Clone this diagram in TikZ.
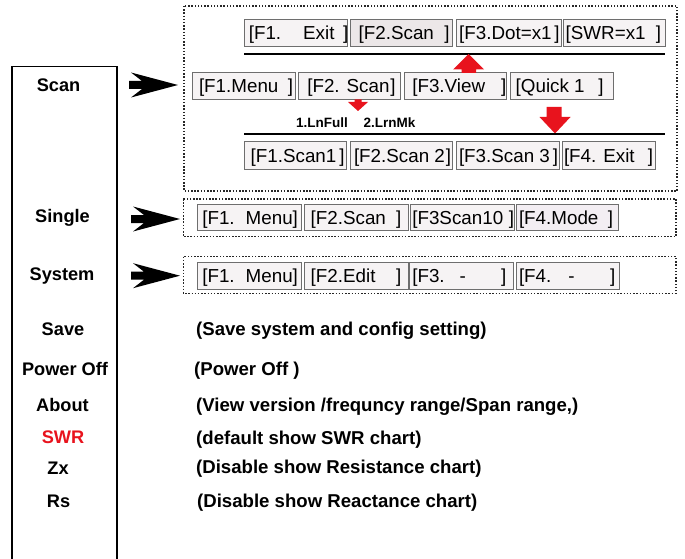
\documentclass[tikz,border=0pt]{standalone}
\usepackage{fontspec}
\setmainfont{Liberation Sans}

\definecolor{keyfill}{HTML}{F6F3F4}
\definecolor{keyfilldark}{HTML}{ECE7E8}
\definecolor{keyfilllav}{HTML}{F3EEF3}
\definecolor{keyline}{HTML}{6E6E6E}
\definecolor{hotred}{HTML}{E8131D}

% soft-key caption: width, left pad, text up to the closing bracket, right pad
\newcommand\keytext[4]{\makebox[#1pt][l]{\hspace*{#2pt}#3\hfill]\hspace*{#4pt}}}

% black dart pointing right, tail centre at the given coordinate
\newcommand\dartarrow[1]{%
  \fill[black] (#1) ++(2,-12.5) -- ++(47,12.5) -- ++(-47,12.5) -- ++(11,-8.5)
    -- ++(-13,0) -- ++(0,-8) -- ++(13,0) -- cycle;}

\tikzset{
  keybox/.style={draw=keyline, line width=0.9pt, fill=keyfill, anchor=north west,
    inner sep=0pt, outer sep=0pt, text height=13.3pt, text depth=0pt,
    font=\fontsize{18.8}{21}\selectfont},
  menulabel/.style={font=\bfseries\fontsize{18.2}{20}\selectfont, inner sep=0pt, anchor=base},
  desc/.style={font=\bfseries\fontsize{18.6}{20}\selectfont, inner sep=0pt, anchor=base west},
  hint/.style={font=\bfseries\fontsize{13.5}{15}\selectfont, inner sep=0pt, anchor=base west},
  frame/.style={draw=black!85, line width=1.5pt, dash pattern=on 1.5pt off 1.7pt},
  rule/.style={line width=1.8pt},
}

\begin{document}
\begin{tikzpicture}[x=1pt,y=-1pt]
\useasboundingbox (0,0) rectangle (685,559);

% left menu column
\draw[line width=1.6pt] (11.7,559) -- (11.7,66.7) -- (116.7,66.7) -- (116.7,559);
\node[menulabel] (mScan)   at (58.5,92)  {Scan};
\node[menulabel] (mSingle) at (62.5,222) {Single};
\node[menulabel] (mSystem) at (62,280.5) {System};
\node[menulabel] (mSave)   at (63,335)   {Save};
\node[menulabel] (mPower)  at (65,375)   {Power Off};
\node[menulabel] (mAbout)  at (62.5,411) {About};
\node[menulabel, text=hotred] (mSwr) at (63,443) {SWR};
\node[menulabel] (mZx)     at (58,474)   {Zx};
\node[menulabel] (mRs)     at (58.5,507) {Rs};

% arrows into the sub-menus
\coordinate (arScan)   at (129,85);
\coordinate (arSingle) at (131,219);
\coordinate (arSystem) at (131,275.7);
\dartarrow{arScan}
\dartarrow{arSingle}
\dartarrow{arSystem}

% dotted frames
\draw[frame] (184,6) rectangle (677,191);
\draw[frame] (183.3,199) rectangle (676,236.7);
\draw[frame] (183.3,256.7) rectangle (676,293.3);

% scan: upper level
\node[keybox, minimum width=103pt, minimum height=27pt] (a1) at (244.3,19.5)
  {\keytext{103}{4.5}{[F1.\hspace{22pt}Exit}{-1}};
\node[keybox, fill=keyfilldark, minimum width=102pt, minimum height=27pt] (a2) at (350.7,19.5)
  {\keytext{102}{8}{[F2.Scan}{3}};
\node[keybox, minimum width=104.3pt, minimum height=27pt] (a3) at (456.7,19.5)
  {\keytext{104.3}{2.5}{[F3.Dot=x1}{1.3}};
\node[keybox, minimum width=101.7pt, minimum height=27pt] (a4) at (563.3,19.5)
  {\keytext{101.7}{2.4}{[SWR=x1}{4}};
\coordinate (r1w) at (244,54);
\coordinate (r1e) at (665,54);
\draw[rule] (r1w) -- (r1e);

% scan: main level
\node[keybox, minimum width=102.3pt, minimum height=27pt] (b1) at (192.7,72.3)
  {\keytext{102.3}{6.3}{[F1.Menu}{2}};
\node[keybox, minimum width=102.4pt, minimum height=27pt] (b2) at (298.3,72.3)
  {\keytext{102.4}{9}{[F2. Scan}{5}};
\node[keybox, minimum width=102.4pt, minimum height=27pt] (b3) at (404.3,72.3)
  {\keytext{102.4}{8}{[F3.View}{0.4}};
\node[keybox, minimum width=103.3pt, minimum height=27pt] (b4) at (510,72.3)
  {\keytext{103.3}{5.7}{[Quick 1}{9.6}};

% red pointers
\coordinate (upTip) at (468.5,54);
\fill[hotred] (upTip) -- ++(15.5,15.5) -- ++(-8,0) -- ++(0,3.5) -- ++(-14.5,0)
  -- ++(0,-3.5) -- ++(-8.5,0) -- cycle;
\coordinate (smTip) at (358,111);
\fill[hotred] (smTip) -- ++(10,-9) -- ++(-6.5,0) -- ++(0,-2.7) -- ++(-7,0)
  -- ++(0,2.7) -- ++(-6.5,0) -- cycle;
\coordinate (dnTip) at (555,133.5);
\fill[hotred] (dnTip) -- ++(15.5,-16.5) -- ++(-9,0) -- ++(0,-10) -- ++(-15,0)
  -- ++(0,10) -- ++(-7,0) -- cycle;

\node[hint] (h1) at (296,127.5) {1.LnFull};
\node[hint] (h2) at (363.5,127.5) {2.LrnMk};

% scan: lower level
\coordinate (r3w) at (244,134.3);
\coordinate (r3e) at (665,134.3);
\draw[rule] (r3w) -- (r3e);
\node[keybox, minimum width=102.4pt, minimum height=27.6pt] (c1) at (244.3,141.7)
  {\keytext{102.4}{6.4}{[F1.Scan1}{2}};
\node[keybox, minimum width=102pt, minimum height=27.6pt] (c2) at (350.7,141.7)
  {\keytext{102}{3.3}{[F2.Scan 2}{1.7}};
\node[keybox, minimum width=102.3pt, minimum height=27.6pt] (c3) at (456.7,141.7)
  {\keytext{102.3}{2.3}{[F3.Scan 3}{1}};
\node[keybox, minimum width=92.7pt, minimum height=27.6pt] (c4) at (562.3,141.7)
  {\keytext{92.7}{1.7}{[F4. Exit}{2}};

% single
\node[keybox, minimum width=103.3pt, minimum height=26.4pt] (d1) at (197.7,204.3)
  {\keytext{103.3}{4.6}{[F1.\hspace{11pt}Menu}{4}};
\node[keybox, minimum width=104pt, minimum height=26.4pt] (d2) at (304,204.3)
  {\keytext{104}{6.7}{[F2.Scan}{6.7}};
\node[keybox, minimum width=104pt, minimum height=26.4pt] (d3) at (410,204.3)
  {\keytext{104}{2.3}{[F3Scan10}{0}};
\node[keybox, fill=keyfilllav, minimum width=102.3pt, minimum height=26.4pt] (d4) at (516,204.3)
  {\keytext{102.3}{3}{[F4.Mode}{5.3}};

% system
\node[keybox, minimum width=103.3pt, minimum height=27pt] (e1) at (197.7,262)
  {\keytext{103.3}{4.6}{[F1.\hspace{11pt}Menu}{4}};
\node[keybox, minimum width=104pt, minimum height=27pt] (e2) at (304,262)
  {\keytext{104}{6.7}{[F2.Edit}{6.7}};
\node[keybox, minimum width=104pt, minimum height=27pt] (e3) at (409.3,262)
  {\keytext{104}{3}{[F3.\hspace{15pt}-}{7}};
\node[keybox, minimum width=103.3pt, minimum height=27pt] (e4) at (516,262)
  {\keytext{103.3}{3}{[F4.\hspace{17pt}-}{4}};

% descriptions
\node[desc] (tSave)  at (196,335)   {(Save system and config setting)};
\node[desc] (tPower) at (194,375)   {(Power Off )};
\node[desc] (tAbout) at (196,411.5) {(View version /frequncy range/Span range,)};
\node[desc] (tSwr)   at (196,444.5) {(default show SWR chart)};
\node[desc] (tZx)    at (196,473.5) {(Disable show Resistance chart)};
\node[desc] (tRs)    at (197,507)   {(Disable show Reactance chart)};
\end{tikzpicture}
\end{document}
